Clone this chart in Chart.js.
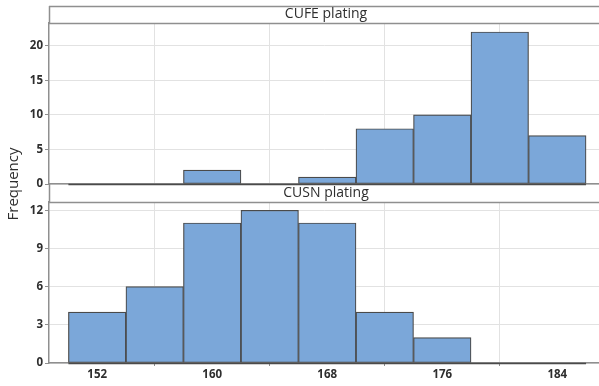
<!DOCTYPE html>
<html>
<head>
<meta charset="utf-8">
<script src="https://cdn.jsdelivr.net/npm/chart.js@4.4.1/dist/chart.umd.min.js"></script>
<style>
html,body{margin:0;padding:0;background:#fff;}
#wrap{position:relative;width:599px;height:386px;overflow:hidden;}
#wrap canvas{position:absolute;left:0;top:0;}
</style>
</head>
<body>
<div id="wrap">
  <canvas id="topChart" width="599" height="386"></canvas>
  <canvas id="botChart" width="599" height="386"></canvas>
</div>
<script>
// histogram bins (lower edges) and counts per panel
const binStarts = [150,154,158,162,166,170,174,178,182];
const binWidth = 4;
const cufeCounts = [0,0,2,0,1,8,10,22,7];
const cusnCounts = [4,6,11,12,11,4,2,0,0];
const xTicks = [152,160,168,176,184];
const cufeTicks = [0,5,10,15,20];
const cusnTicks = [0,3,6,9,12];
const panelTitles = ["CUFE plating","CUSN plating"];
const yTitle = "Frequency";

const FRAME = "#8f8f8f";
const GRID = "#e2e2e2";
const BAR = "#7ba7d9";
const EDGE = "#4a4a4a";
const TXT = "#2e2e2e";
const FONT = "'Open Sans', 'Noto Sans', sans-serif";

function toBars(counts){
  return binStarts.map((s,i)=>({ x: s + binWidth/2, y: counts[i] }));
}
function fixTicks(list){
  return function(scale){ scale.ticks = list.map(v=>({value:v})); };
}

const panelPlugin = {
  id: "panel",
  afterDatasetsDraw(chart, args, o){
    // dark baseline across the histogram's range
    const {ctx} = chart;
    const xs = chart.scales.x, ys = chart.scales.y;
    const y0 = Math.round(ys.getPixelForValue(0)) + 0.5;
    ctx.save();
    ctx.strokeStyle = EDGE;
    ctx.lineWidth = 1.5;
    ctx.beginPath();
    ctx.moveTo(xs.getPixelForValue(binStarts[0]), y0);
    ctx.lineTo(xs.getPixelForValue(binStarts[binStarts.length-1] + binWidth), y0);
    ctx.stroke();
    ctx.restore();
  },
  afterDraw(chart, args, o){
    const {ctx, chartArea:a} = chart;
    ctx.save();
    ctx.strokeStyle = FRAME;
    ctx.lineWidth = 1.5;
    ctx.beginPath();
    if (o.topLine){
      ctx.moveTo(a.left, o.headerTop + 0.5);
      ctx.lineTo(a.right, o.headerTop + 0.5);
    }
    ctx.moveTo(a.left, a.top + 0.5);
    ctx.lineTo(a.right, a.top + 0.5);
    ctx.moveTo(a.left + 0.5, o.headerTop);
    ctx.lineTo(a.left + 0.5, a.top);
    ctx.stroke();

    ctx.fillStyle = TXT;
    ctx.font = "14px " + FONT;
    ctx.textAlign = "center";
    ctx.textBaseline = "middle";
    ctx.fillText(o.title, (a.left + a.right)/2 + 2, (o.headerTop + a.top)/2);

    if (o.yTitle){
      ctx.translate(14, 184);
      ctx.rotate(-Math.PI/2);
      ctx.font = "15px " + FONT;
      ctx.fillText(o.yTitle, 0, 0);
    }
    ctx.restore();
  }
};

function makeChart(id, counts, yMax, yTickList, cfg){
  return new Chart(document.getElementById(id), {
    type: "bar",
    data: {
      datasets: [{
        data: toBars(counts),
        backgroundColor: BAR,
        borderColor: EDGE,
        borderWidth: 1.2,
        borderSkipped: false,
        barPercentage: 1,
        categoryPercentage: 1
      }]
    },
    options: {
      responsive: false,
      animation: false,
      layout: { padding: { left: 0, right: 0, top: cfg.padTop, bottom: cfg.padBottom } },
      plugins: {
        legend: { display: false },
        tooltip: { enabled: false },
        panel: { title: cfg.title, headerTop: cfg.headerTop, topLine: cfg.topLine, yTitle: cfg.yTitle }
      },
      scales: {
        x: {
          type: "linear",
          min: 148.65,
          max: 186.9,
          offset: false,
          afterBuildTicks: fixTicks(xTicks),
          afterFit(s){ s.height = cfg.xHeight; },
          grid: { color: GRID, drawTicks: cfg.showX, tickLength: 3, tickColor: FRAME },
          border: { color: FRAME, width: 1.5 },
          ticks: {
            display: cfg.showX,
            padding: 2,
            color: TXT,
            maxRotation: 0,
            font: { family: FONT, size: 11.5, weight: "bold" }
          }
        },
        y: {
          min: 0,
          max: yMax,
          afterBuildTicks: fixTicks(yTickList),
          afterFit(s){ s.width = 49; },
          grid: { color: GRID, tickLength: 4, tickColor: FRAME },
          border: { color: FRAME, width: 1.5 },
          ticks: {
            padding: 2,
            color: TXT,
            font: { family: FONT, size: 11.5, weight: "bold" }
          }
        }
      }
    },
    plugins: [panelPlugin]
  });
}

makeChart("topChart", cufeCounts, 23.3, cufeTicks, {
  padTop: 23, padBottom: 202, xHeight: 0, showX: false,
  title: panelTitles[0], headerTop: 6, topLine: true
});
makeChart("botChart", cusnCounts, 12.65, cusnTicks, {
  padTop: 202, padBottom: 0, xHeight: 23, showX: true,
  title: panelTitles[1], headerTop: 184, topLine: false, yTitle: yTitle
});
</script>
</body>
</html>
